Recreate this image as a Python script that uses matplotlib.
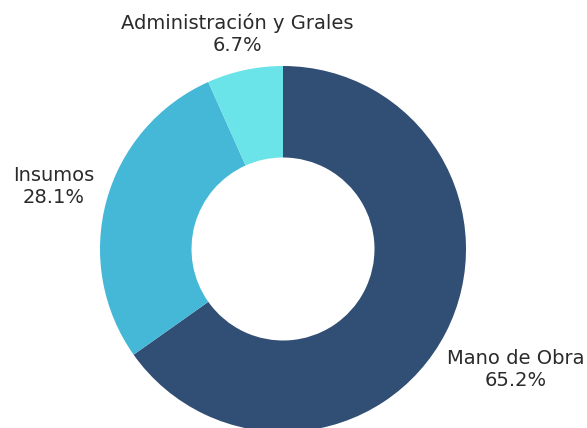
import numpy as np
import matplotlib
matplotlib.use('Agg')
import matplotlib.pyplot as plt

categories = ['Mano de Obra', 'Insumos', 'Administración y Grales']
shares = [65.2, 28.1, 6.7]
colors = ['#314e75', '#45b8d8', '#6ae4e8']
label_dist = [1.43, 1.30, 1.20]

W, H = 587, 428
fig = plt.figure(figsize=(W / 100, H / 100), dpi=100)
cx, cy, r = 283, 249, 183
ax = fig.add_axes([(cx - r) / W, (H - cy - r) / H, 2 * r / W, 2 * r / H])

wedges, _ = ax.pie(shares, colors=colors, startangle=90, counterclock=False,
                   radius=1, wedgeprops=dict(width=0.5, edgecolor='none'))
ax.set_xlim(-1, 1)
ax.set_ylim(-1, 1)
ax.set_aspect('equal')
ax.axis('off')

for w, name, val, d in zip(wedges, categories, shares, label_dist):
    ang = np.deg2rad((w.theta1 + w.theta2) / 2)
    x, y = d * np.cos(ang), d * np.sin(ang)
    ax.text(x, y, f'{name}\n{val}%', ha='center', va='center',
            fontsize=14, color='#2b2b2b', family='DejaVu Sans',
            linespacing=1.2, clip_on=False)

fig.savefig('out.png', dpi=100)
